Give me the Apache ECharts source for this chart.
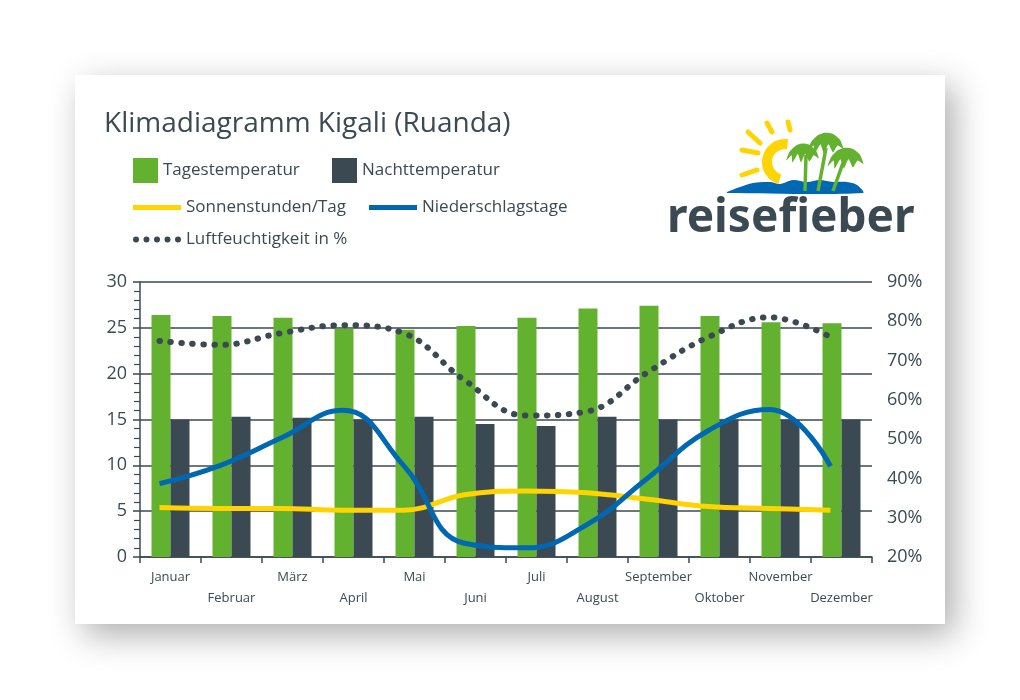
<!DOCTYPE html>
<html>
<head>
<meta charset="utf-8">
<script src="https://cdn.jsdelivr.net/npm/echarts@6/dist/echarts.min.js"></script>
<style>
html, body { margin: 0; padding: 0; background: #fff; }
#chart { width: 1020px; height: 700px; }
</style>
</head>
<body>
<div id="chart"></div>
<script>
const months = ['Januar', 'Februar', 'März', 'April', 'Mai', 'Juni', 'Juli', 'August', 'September', 'Oktober', 'November', 'Dezember'];
const tagesTemp = [26.4, 26.3, 26.1, 24.9, 24.8, 25.2, 26.1, 27.1, 27.4, 26.3, 25.6, 25.5];
const nachtTemp = [15.0, 15.3, 15.2, 15.0, 15.3, 14.5, 14.3, 15.3, 15.0, 15.0, 15.0, 15.0];
const sonnenstunden = [5.4, 5.3, 5.3, 5.1, 5.1, 6.8, 7.2, 7.0, 6.3, 5.5, 5.3, 5.1];
const niederschlag = [8.0, 10.0, 13.0, 16.0, 10.0, 1.5, 1.0, 3.5, 8.6, 13.8, 16.1, 9.9];
const feuchte = [75, 74, 77, 79, 77, 65, 56, 57, 67, 76, 81, 76];

const DARK = '#3b4a52';
const GREEN = '#63b22f';
const YELLOW = '#ffd400';
const BLUE = '#0068b3';
const FONT = '"Open Sans", "Noto Sans", sans-serif';

// five dots for the humidity legend icon (48 x 6 box)
const DOTS_ICON = 'path://' + [3, 13.5, 24, 34.5, 45]
  .map(cx => `M${cx - 3},3a3,3 0 1,0 6,0a3,3 0 1,0 -6,0Z`).join(' ');

// little palm crown for the logo
function crown(cx, cy, s) {
  const p = [[-15, 8], [-12, 0], [-6, -6], [0, -8], [7, -7], [13, -2], [16, 6], [11, 3], [7, 9], [3, 2], [-1, 10], [-4, 2], [-9, 10], [-10, 3]];
  return p.map(([x, y]) => [cx + x * s, cy + y * s]);
}

const textStyle = { fontFamily: FONT, fontSize: 17, color: DARK };
const legendBase = { padding: 0, textStyle, selectedMode: false };

const chart = echarts.init(document.getElementById('chart'));
chart.setOption({
  animation: false,
  title: {
    text: 'Klimadiagramm Kigali (Ruanda)',
    left: 104,
    top: 110,
    padding: 0,
    textStyle: { fontFamily: FONT, fontSize: 28, fontWeight: 'normal', color: DARK }
  },
  legend: [
    Object.assign({ data: ['Tagestemperatur'], left: 133, top: 158, itemWidth: 25, itemHeight: 25, icon: 'rect' }, legendBase),
    Object.assign({ data: ['Nachttemperatur'], left: 332, top: 158, itemWidth: 25, itemHeight: 25, icon: 'rect' }, legendBase),
    Object.assign({ data: ['Sonnenstunden/Tag'], left: 133, top: 199, itemWidth: 48, itemHeight: 5, icon: 'rect' }, legendBase),
    Object.assign({ data: ['Niederschlagstage'], left: 369, top: 199, itemWidth: 48, itemHeight: 5, icon: 'rect' }, legendBase),
    Object.assign({ data: ['Luftfeuchtigkeit in %'], left: 133, top: 231, itemWidth: 48, itemHeight: 6, icon: DOTS_ICON }, legendBase)
  ],
  grid: [
    { left: 140, top: 282, width: 732, height: 275 },
    { left: 129, top: 282, width: 732, height: 275 }
  ],
  xAxis: [
    {
      type: 'category',
      gridIndex: 0,
      data: months,
      axisLine: { lineStyle: { color: DARK, width: 1.5 } },
      axisTick: { show: true, interval: 0, length: 6, lineStyle: { color: DARK, width: 1.5 } },
      axisLabel: {
        interval: 0,
        margin: 10,
        fontFamily: FONT,
        fontSize: 13,
        lineHeight: 21,
        color: DARK,
        formatter: (v, i) => (i % 2 ? '\n' + v : v)
      }
    },
    { type: 'category', gridIndex: 1, data: months, show: false }
  ],
  yAxis: [
    {
      type: 'value',
      gridIndex: 0,
      min: 0,
      max: 30,
      interval: 5,
      axisLine: { show: true, lineStyle: { color: DARK, width: 1.5 } },
      axisTick: { show: true, length: 7, lineStyle: { color: DARK, width: 1.5 } },
      minorTick: { show: true, splitNumber: 5, length: 6, lineStyle: { color: DARK, width: 1.2 } },
      splitLine: { show: true, lineStyle: { color: DARK, width: 1.5 } },
      axisLabel: { margin: 13, fontFamily: FONT, fontSize: 18, color: DARK }
    },
    {
      type: 'value',
      gridIndex: 0,
      position: 'right',
      min: 20,
      max: 90,
      interval: 10,
      axisLine: { show: false },
      axisTick: { show: false },
      splitLine: { show: false },
      axisLabel: { margin: 15, fontFamily: FONT, fontSize: 18, color: DARK, formatter: '{value}%' }
    },
    { type: 'value', gridIndex: 1, min: 0, max: 30, show: false, splitLine: { show: false } },
    { type: 'value', gridIndex: 1, min: 20, max: 90, show: false, splitLine: { show: false } }
  ],
  series: [
    {
      name: 'Tagestemperatur',
      type: 'bar',
      xAxisIndex: 0,
      yAxisIndex: 0,
      data: tagesTemp,
      barWidth: 19,
      barGap: '0%',
      itemStyle: { color: GREEN }
    },
    {
      name: 'Nachttemperatur',
      type: 'bar',
      xAxisIndex: 0,
      yAxisIndex: 0,
      data: nachtTemp,
      barWidth: 19,
      itemStyle: { color: DARK }
    },
    {
      name: 'Sonnenstunden/Tag',
      type: 'line',
      xAxisIndex: 1,
      yAxisIndex: 2,
      data: sonnenstunden,
      smooth: 0.4,
      symbol: 'none',
      itemStyle: { color: YELLOW },
      lineStyle: { color: YELLOW, width: 5 }
    },
    {
      name: 'Niederschlagstage',
      type: 'line',
      xAxisIndex: 1,
      yAxisIndex: 2,
      data: niederschlag,
      smooth: 0.45,
      symbol: 'none',
      itemStyle: { color: BLUE },
      lineStyle: { color: BLUE, width: 5 }
    },
    {
      name: 'Luftfeuchtigkeit in %',
      type: 'line',
      xAxisIndex: 1,
      yAxisIndex: 3,
      data: feuchte,
      smooth: 0.4,
      symbol: 'none',
      itemStyle: { color: DARK },
      lineStyle: { color: DARK, width: 6, type: [0.5, 10.5], cap: 'round' }
    }
  ],
  graphic: [
    {
      type: 'rect',
      z: -10,
      shape: { x: 75, y: 75, width: 870, height: 549 },
      style: { fill: '#fff', shadowBlur: 32, shadowColor: 'rgba(0,0,0,0.32)', shadowOffsetX: 9, shadowOffsetY: 11 }
    },
    // logo: sea
    {
      type: 'polygon',
      shape: {
        smooth: 0.3,
        points: [[727, 192], [740, 187], [753, 183], [770, 182], [780, 184], [793, 180], [807, 182], [820, 180], [833, 182], [847, 182], [857, 185], [863, 193], [727, 193]]
      },
      style: { fill: BLUE }
    },
    // sun
    {
      type: 'arc',
      shape: { cx: 785, cy: 162, r: 18, startAngle: -82 * Math.PI / 180, endAngle: 107 * Math.PI / 180, clockwise: false },
      style: { stroke: YELLOW, lineWidth: 10, fill: null }
    },
    { type: 'line', shape: { x1: 748, y1: 132, x2: 760, y2: 143 }, style: { stroke: YELLOW, lineWidth: 5, lineCap: 'round' } },
    { type: 'line', shape: { x1: 767, y1: 123, x2: 772, y2: 132 }, style: { stroke: YELLOW, lineWidth: 5, lineCap: 'round' } },
    { type: 'line', shape: { x1: 788, y1: 122, x2: 790, y2: 130 }, style: { stroke: YELLOW, lineWidth: 5, lineCap: 'round' } },
    { type: 'line', shape: { x1: 742, y1: 150, x2: 758, y2: 153 }, style: { stroke: YELLOW, lineWidth: 5, lineCap: 'round' } },
    { type: 'line', shape: { x1: 742, y1: 175, x2: 757, y2: 170 }, style: { stroke: YELLOW, lineWidth: 5, lineCap: 'round' } },
    // palms
    { type: 'line', shape: { x1: 805, y1: 191, x2: 806, y2: 155 }, style: { stroke: GREEN, lineWidth: 3.5 } },
    { type: 'line', shape: { x1: 818, y1: 191, x2: 826, y2: 148 }, style: { stroke: GREEN, lineWidth: 3.5 } },
    { type: 'line', shape: { x1: 833, y1: 191, x2: 844, y2: 160 }, style: { stroke: GREEN, lineWidth: 3.5 } },
    { type: 'polygon', shape: { smooth: 0.2, points: crown(802, 152, 1.05) }, style: { fill: GREEN } },
    { type: 'polygon', shape: { smooth: 0.2, points: crown(825, 142, 1.15) }, style: { fill: GREEN } },
    { type: 'polygon', shape: { smooth: 0.2, points: crown(845, 157, 1.15) }, style: { fill: GREEN } },
    {
      type: 'text',
      style: {
        x: 667,
        y: 219,
        text: 'reisefieber',
        textVerticalAlign: 'middle',
        font: 'bold 46px "Noto Sans", sans-serif',
        fill: DARK
      }
    }
  ]
});
</script>
</body>
</html>
